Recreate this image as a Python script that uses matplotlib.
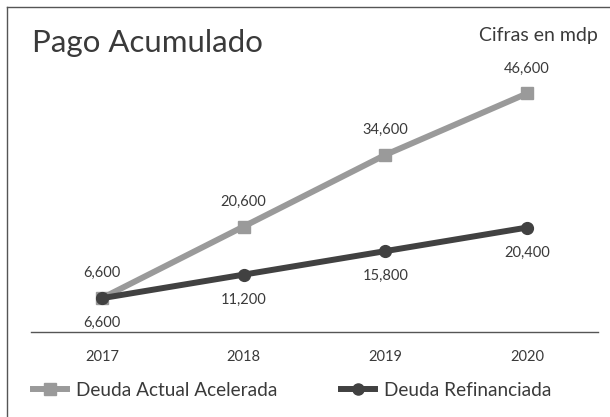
import matplotlib

matplotlib.use("Agg", force=True)

import matplotlib.pyplot as plt  # noqa: E402
from matplotlib.lines import Line2D  # noqa: E402

years = ["2017", "2018", "2019", "2020"]
acelerada = [6600, 20600, 34600, 46600]
refinanciada = [6600, 11200, 15800, 20400]

GREY = "#9a9a9a"
DARK = "#414141"
TEXT = "#3a3a3a"

plt.rcParams["font.family"] = ["Lato", "DejaVu Sans"]

fig = plt.figure(figsize=(6.1, 4.17), dpi=100)
ax = fig.add_axes([31 / 610, 85 / 417, 567 / 610, 256 / 417])

x = list(range(len(years)))
ax.plot(x, acelerada, color=GREY, linewidth=4.3, marker="s", markersize=9,
        zorder=2)
ax.plot(x, refinanciada, color=DARK, linewidth=4.3, marker="o", markersize=8.5,
        zorder=3)

for xi, v in zip(x, acelerada):
    ax.annotate(f"{v:,}", (xi, v), xytext=(0, 18), textcoords="offset points",
                ha="center", va="center", fontsize=10.5, color=TEXT)
for xi, v in zip(x, refinanciada):
    ax.annotate(f"{v:,}", (xi, v), xytext=(0, -18), textcoords="offset points",
                ha="center", va="center", fontsize=10.5, color=TEXT)

ax.set_xlim(-0.5, len(years) - 0.5)
ax.set_ylim(0, 50000)
ax.set_xticks(x)
ax.set_xticklabels(years, fontsize=10.5, color=TEXT)
ax.set_yticks([])
ax.tick_params(axis="x", length=0, pad=13)
for side in ("top", "right", "left"):
    ax.spines[side].set_visible(False)
ax.spines["bottom"].set_color("#555555")
ax.spines["bottom"].set_linewidth(1)

# frame lines (left and top only, as cropped in the original)
fig.add_artist(Line2D([7 / 610, 7 / 610], [0, 1 - 7 / 417], color="#555555",
                      linewidth=1, transform=fig.transFigure))
fig.add_artist(Line2D([7 / 610, 1], [1 - 7 / 417, 1 - 7 / 417], color="#555555",
                      linewidth=1, transform=fig.transFigure))

fig.text(32 / 610, 1 - 52 / 417, "Pago Acumulado", fontsize=22.5, color=TEXT,
         va="baseline", ha="left")
fig.text(598 / 610, 1 - 41 / 417, "Cifras en mdp", fontsize=14, color=TEXT,
         va="baseline", ha="right")

handles = [
    Line2D([], [], color=GREY, linewidth=4.3, marker="s", markersize=8),
    Line2D([], [], color=DARK, linewidth=4.3, marker="o", markersize=8),
]
fig.legend(handles, ["Deuda Actual Acelerada", "Deuda Refinanciada"],
           loc="center left", bbox_to_anchor=(25 / 610, 1 - 390 / 417),
           borderaxespad=0, ncol=2, frameon=False, fontsize=13.7,
           handlelength=1.8, columnspacing=3.3, handletextpad=0.5,
           labelcolor=TEXT)

fig.savefig("out.png", dpi=100)
